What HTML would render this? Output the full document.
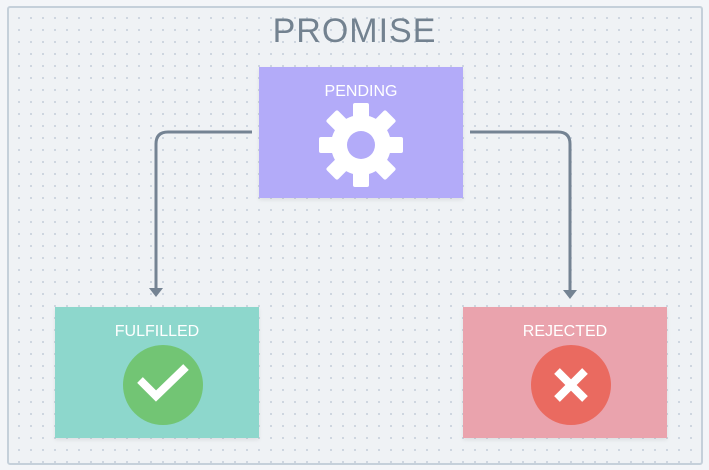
<!DOCTYPE html>
<html><head><style>
html,body{margin:0;padding:0}
body{width:709px;height:470px;background:#f3f5f8;position:relative;overflow:hidden;font-family:"Liberation Sans",sans-serif}
.frame{position:absolute;left:7px;top:6px;width:692px;height:455px;border:2px solid #c5d0da;border-radius:3px;background-color:#eff2f5;
background-image:radial-gradient(circle,#c9d2dc 0.9px,transparent 1.2px);background-size:12px 12px;background-position:4px 4px}
.box{position:absolute;width:204px;height:131px;box-shadow:0 2px 4px rgba(0,0,0,.08)}
.lbl{position:absolute;left:0;right:0;top:16px;text-align:center;color:#fff;font-size:16px}
.title{position:absolute;left:0;width:709px;top:12px;text-align:center;color:#738290;font-size:34px;letter-spacing:1px}
</style></head><body>
<div class="frame"></div>
<div class="title">PROMISE</div>
<svg width="709" height="470" style="position:absolute;left:0;top:0">
<path d="M252 132 H168 Q156 132 156 144 V290" fill="none" stroke="#748393" stroke-width="3"/>
<path d="M149 288 L163 288 L156 297 Z" fill="#748393"/>
<path d="M470 132 H558 Q570 132 570 144 V291" fill="none" stroke="#748393" stroke-width="3"/>
<path d="M563 290 L577 290 L570 299 Z" fill="#748393"/>
</svg>
<div class="box" style="left:259px;top:67px;background:#b3abf9"><div class="lbl">PENDING</div>
<svg width="204" height="131" style="position:absolute;left:0;top:0">
<g transform="translate(102,78)" fill="#fff">
<g id="t"><rect x="-8" y="-42" width="16" height="20" rx="2"/></g>
<use href="#t" transform="rotate(45)"/><use href="#t" transform="rotate(90)"/><use href="#t" transform="rotate(135)"/>
<use href="#t" transform="rotate(180)"/><use href="#t" transform="rotate(225)"/><use href="#t" transform="rotate(270)"/><use href="#t" transform="rotate(315)"/>
<circle r="30"/><circle r="14" fill="#b3abf9"/></g></svg></div>
<div class="box" style="left:55px;top:307px;background:#8dd7cc"><div class="lbl">FULFILLED</div>
<svg width="204" height="131" style="position:absolute;left:0;top:0">
<circle cx="108" cy="78" r="40" fill="#72c574"/>
<path d="M85 73 L101 89 L131 60" fill="none" stroke="#fff" stroke-width="8"/></svg></div>
<div class="box" style="left:463px;top:307px;background:#eaa3ad"><div class="lbl">REJECTED</div>
<svg width="204" height="131" style="position:absolute;left:0;top:0">
<circle cx="108" cy="78" r="40" fill="#ea6a60"/>
<path d="M94 64 L122 92 M122 64 L94 92" fill="none" stroke="#fff" stroke-width="8"/></svg></div>
</body></html>
